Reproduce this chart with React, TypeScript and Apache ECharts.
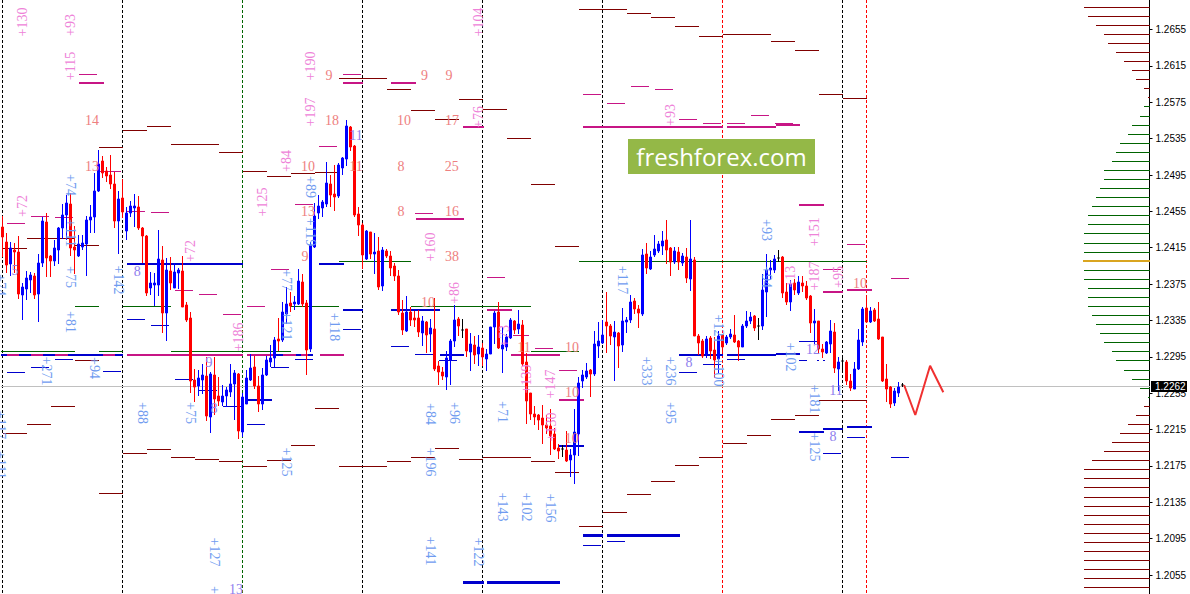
import React, { useEffect, useRef } from "react";
import * as echarts from "echarts";

// Quotes are in points (1 point = 0.00001). Bars are numbered from the left of the chart.
const POINT = 0.00001;
const PRICE_MAX = 1.26875;
const PRICE_MIN = 1.20341;
const SLOT_COUNT = 287;
const PROFILE_BASE = 286.75;
const LAST_PRICE = 122620;

const priceTicks = [1.2655, 1.2615, 1.2575, 1.2535, 1.2495, 1.2455, 1.2415, 1.2375, 1.2335, 1.2295, 1.2255, 1.2215, 1.2175, 1.2135, 1.2095, 1.2055];

// [open, close, low, high]
const candles = [
[124378,124268,124048,124499],[124213,123960,123872,124312],[123971,124147,123839,124213],[124125,124103,123872,124202],
[124103,123641,123586,124279],[123630,123718,123355,123762],[123696,123817,123575,123894],[123795,123850,123652,123883],
[123839,123630,123586,123872],[123641,123982,123333,124081],[123982,124444,123938,124488],[124433,124037,123828,124532],
[124059,124004,123828,124070],[124004,124147,123949,124235],[124125,124367,123971,124378],[124367,124510,124246,124631],
[124510,124642,124235,124730],[124631,124147,124059,124752],[124158,124125,123861,124389],[124059,124191,124048,124290],
[124158,124202,124125,124290],[124191,124455,123839,124499],[124455,124488,124312,124620],[124488,124774,124312,124972],
[124774,125071,124763,125225],[125104,124972,124917,125159],[124994,124939,124873,125038],[124950,124851,124796,125170],
[124851,124444,124367,124983],[124444,124686,124081,124774],[124697,124543,124477,124906],[124334,124532,124235,124598],
[124532,124609,124488,124664],[124587,124609,124378,124741],[124598,124367,124345,124719],[124367,124279,123982,124378],
[124279,123652,123619,124290],[123707,123762,123630,123883],[123740,123762,123509,123872],[123740,124026,123619,124345],
[124015,123432,123212,124169],[123432,123905,123124,124037],[123894,123762,123685,124048],[123707,123883,123707,123982],
[123872,123905,123696,123927],[123894,123498,123498,124059],[123520,123355,123333,123553],[123377,122684,122552,123443],
[122695,122618,122453,122816],[122629,122717,122519,122805],[122695,122750,122541,122871],[122739,122299,122244,122948],
[122288,122761,122112,122783],[122750,122486,122310,122948],[122519,122464,122409,122728],[122453,122519,122409,122640],
[122519,122585,122398,122618],[122563,122651,122508,122871],[122651,122772,122255,122805],[122761,122134,122046,122772],
[122123,122508,122068,122552],[122431,122717,122431,122805],[122695,122827,122684,122981],[122838,122629,122596,122959],
[122629,122431,122343,122739],[122431,122750,122365,122827],[122750,122915,122739,122959],[122893,122937,122838,123080],
[122937,123135,122838,123168],[123146,123124,123014,123377],[123135,123443,123113,123553],[123421,123531,123311,123718],
[123542,123509,123443,123663],[123531,123553,123465,123619],[123531,123784,123520,123916],[123773,123531,123498,123861],
[123542,123025,122750,123575],[123036,124180,123003,124213],[124158,124499,124147,124642],[124532,124609,124466,124730],
[124587,124653,124488,124675],[124631,124862,124598,125093],[124851,124730,124598,124950],[124741,124708,124554,125060],
[124719,125060,124697,125082],[125027,125137,124950,125148],[125126,125489,125049,125555],[125478,125258,125214,125489],
[125269,124510,124488,125280],[124521,124400,124279,124598],[124400,124070,123916,124422],[124026,124334,124015,124345],
[124323,124081,124026,124323],[124081,124103,123861,124312],[124114,123718,123685,124268],[123729,124125,123674,124158],
[124114,124059,124037,124136],[124059,123927,123839,124114],[123949,123839,123784,123982],[123839,123443,123410,123905],
[123432,123245,123190,123575],[123234,123443,123223,123619],[123443,123355,123289,123498],[123377,123355,123278,123454],
[123377,123223,123168,123465],[123212,123344,123069,123399],[123333,123190,122992,123344],[123201,123267,123003,123366],
[123256,122816,122794,123597],[122849,122783,122640,122904],[122783,122739,122695,122838],[122728,122937,122585,123014],
[122915,123124,122640,123146],[123124,123355,123058,123520],[123366,123289,123179,123388],[123245,123245,123157,123366],
[123256,123014,122948,123256],[123003,123091,122794,123212],[123080,122970,122871,123179],[122981,123058,122849,123190],
[123047,122948,122849,123102],[122926,122981,122794,123036],[122981,123278,122981,123278],[123278,123432,123091,123454],
[123443,123047,123036,123553],[123036,123080,122772,123278],[123058,123168,123014,123201],[123157,123355,123146,123377],
[123344,123245,123201,123355],[123256,123311,123201,123465],[123300,122871,122849,123355],[122893,122464,122211,122992],
[122552,122321,122255,122552],[122321,122288,122200,122409],[122310,122255,122145,122321],[122277,122200,121991,122420],
[122200,122167,122101,122310],[122189,122079,121870,122376],[122101,121936,121925,122167],[121947,121914,121826,121991],
[121936,121936,121848,121980],[121925,121804,121793,122134],[121815,121870,121628,121936],[121870,122123,121551,122376],
[122101,122662,121859,122728],[122684,122750,122607,122805],[122728,122794,122706,122882],[122805,122761,122508,122816],
[122761,123091,122739,123234],[123069,123124,122937,123333],[123102,123190,123091,123355],[123333,123289,122992,123663],
[123289,123179,123080,123311],[123168,123223,122684,123344],[123212,123069,122827,123223],[123080,123344,123003,123487],
[123333,123355,123212,123388],[123355,123553,123322,123630],[123564,123476,123421,123597],[123476,123432,123267,123520],
[123421,124070,123399,124136],[124081,123927,123861,124202],[123916,124048,123905,124114],[124070,124136,124048,124290],
[124114,124191,124092,124224],[124169,124224,124070,124334],[124235,124125,123971,124455],[124147,123993,123839,124158],
[123993,124114,123971,124158],[124103,123993,123905,124158],[123982,124059,123949,124092],[124048,123817,123762,124147],
[123806,124026,123674,124455],[124015,123179,123179,124048],[123179,123102,122970,123201],[123124,122959,122937,123146],
[122981,123146,122937,123179],[123157,123014,122926,123179],[123025,122915,122717,123168],[122926,123179,122761,123234],
[123190,123058,122981,123201],[123102,123168,123080,123190],[123168,123201,123146,123256],[123190,123113,123102,123410],
[123124,123058,122904,123135],[123058,123289,123058,123311],[123289,123344,123267,123454],[123344,123388,123311,123443],
[123399,123267,123234,123410],[123289,123289,123135,123377],[123289,123685,123245,123861],[123663,123905,123388,124081],
[123905,123927,123795,124015],[123905,124026,123872,124070],[124037,124037,123993,124125],[124048,123652,123597,124059],
[123663,123553,123520,123762],[123553,123751,123454,123795],[123762,123685,123630,123806],[123652,123773,123630,123839],
[123762,123729,123663,123839],[123729,123597,123575,123784],[123619,123322,123212,123630],[123322,123344,123091,123476],
[123344,123036,122992,123344],[123036,123003,122937,123091],[122992,123113,122981,123124],[123091,123234,122992,123355],
[123223,122827,122772,123322],[122816,122893,122574,122948],[122904,122904,122783,122948],[122893,122684,122640,122915],
[122684,122607,122574,122761],[122596,122816,122596,122893],[122816,123135,122805,123256],[123113,123476,123069,123498],
[123487,123333,123322,123608],[123333,123454,123322,123498],[123465,123344,123333,123487],[123366,123146,123135,123553],
[123168,122684,122673,123168],[122706,122596,122453,122871],[122618,122431,122387,122629],[122442,122574,122409,122607],
[122552,122618,122508,122673],[122640,122640,122618,122662],
];

// Levels: [from bar, to bar, points]
const darkRedLevels = [
[24,30,125247],[30,36,125445],[36,42,125489],[42,54,125280],[54,60,125192],[60,66,124994],[66,72,124928],[72,78,124961],
[78,84,124983],[84,96,126017],[96,102,125896],[102,108,125654],[108,114,125555],[114,120,125775],[120,126,125676],
[126,132,125357],[132,138,124851],[138,144,124158],[144,156,126765],[156,162,126721],[162,168,126688],[168,174,126578],
[174,180,126479],[180,192,126490],[192,198,126424],[198,204,126314],[204,210,125841],[210,216,125797],
[0,6,124147],[6,18,124246],[18,24,124169],
[0,6,122101],[6,12,122200],[12,18,122409],[18,24,122904],[24,30,121452],[30,36,121881],[36,42,121925],[42,48,121848],
[48,54,121826],[54,60,121793],[60,66,121738],[66,72,121815],[72,78,121980],[78,84,122376],[84,96,121738],[96,102,121793],
[102,108,121837],[108,114,121947],[114,120,121826],[120,126,121848],[126,132,121837],[132,138,121793],[138,144,121683],
[144,150,121078],[150,156,121243],[156,162,121430],[162,168,121584],[168,174,121760],[174,180,121848],[180,186,122002],
[186,192,122090],[192,198,122266],[198,204,122310],[204,210,122464],[210,216,122475],
];
const greenLevels = [
[84,102,124004],[144,216,124004],[18,24,123509],[30,42,123509],[72,84,123509],[102,132,123509],
[-0.5,18,123014],[24,30,123014],[42,72,123014],[132,144,123014],
];
const magentaLevels = [
[19,23.5,126061],[1,5.5,124422],[7,11.5,124499],[13,17.5,124477],[31,35.5,124554],[37,41.5,124532],[24,29.5,124994],
[43,47.5,123685],[49,53.5,123630],[55,59.5,123410],[61,65.5,123498],[67,71.5,123916],[73,77.5,124631],[79,83.5,125269],
[85,89.5,126061],[103,107.5,124521],[121,125.5,123828],[145,149.5,125841],[151,155.5,125731],[157,161.5,125929],
[163,167.5,125896],[169,173.5,125566],[175,179.5,125522],[181,185.5,125522],[187,191.5,125599],[193,197.5,125522],
[205,209.5,123905],[211,215.5,124191],[222,226.5,123806],[127.5,131.5,123190],[133,137.5,123036],[139,143.5,122805],
];
const magentaStrong = [
[19,25.25,125962],[31,60,122970],[85,90,125962],[97,103.25,125962],[103.25,115.25,124466],[115,120.25,125478],
[145,180,125478],[181,193.25,125478],[193.25,199.25,125500],[199,205.25,124620],[205,210,123663],[211,217.25,123680],
[121,127.25,123465],[127,139.25,122970],[139,145.25,122475],
[1,4,122970],[7,10,122970],[13,16.25,122970],[25,28,122970],[61,67.5,122970],[70,73.25,122970],[74.5,76.25,122970],[79.25,85.25,122970],
];
const blueLevels = [
[1,5.5,122772],[7,11.5,122838],[13,17.5,122926],[25,29.5,122794],[31,35.5,123355],[37,41.5,123300],[43,47.5,122706],
[49,53.5,122585],[55,59.5,122409],[61,65.5,122211],[67,71.5,122827],[73,77.5,122926],[85,89.5,123256],[97,101.5,123069],
[103,107.5,122981],[109,113.5,122904],[145,149.5,120880],[151,155.5,120924],[169,173.5,122772],[175,179.5,122860],
[181,185.5,122915],[199,203.5,123124],[211,215.5,122057],[205,209.5,121892],[222,226.5,121848],
[199,201,122904],[203.5,204,122904],[205,205.5,122904],
];
const blueStrong = [
[-0.5,30,122970],[31,60,123971],[61,67.25,122475],[67.5,77.5,122970],[79,85.25,123971],[85,90,123465],[97,109.25,123465],
[109.25,115.25,122970],[139,145.25,121969],
[169,180,122970],[181,193.25,122970],[193.25,199.25,122981],[199,205.25,122123],[205,210,122156],[211,217.25,122178],
];
const blueHeavy = [
[115,120.25,120473],[121,139.25,120473],[145,150,120979],[151,169.25,120979],
];

const blackSessions = [0, 30, 90, 120, 150, 210];
const greenSessions = [60];
const redSessions = [180, 216];

// Volume profile: [points, length in bars]
const profileUpper = [[126795,16.5],[126696,15.5],[126597,13.5],[126498,11.5],[126399,10.5],[126300,8.5],[126201,6.5],[126102,4.5],[126003,3.5],[125904,1.5],[125805,0.5]];
const profileMiddle = [[125706,1.5],[125596,2.5],[125497,4.5],[125398,5.5],[125299,7.5],[125200,8.5],[125101,9.5],[125002,11.5],[124903,11.5],[124804,12.5],[124705,13.5],[124606,14.5],[124507,15.5],[124408,15.5],[124309,16.5],[124199,16.5],[124100,16.5],[123902,16.5],[123803,16.5],[123704,15.5],[123605,15.5],[123506,15.5],[123407,14.5],[123308,13.5],[123209,12.5],[123110,11.5],[123011,9.5],[122912,8.5],[122802,6.5],[122703,4.5],[122604,2.5],[122505,0.5]];
const profileLower = [[122406,1.5],[122307,3.5],[122208,5.5],[122109,7.5],[122010,9.5],[121911,11.5],[121812,14.5],[121713,16.5],[121614,16.5],[121515,16.5],[121405,16.5],[121306,16.5],[121207,16.5],[121108,16.5],[121009,16.5],[120910,16.5],[120811,16.5],[120712,16.5],[120613,16.5],[120514,16.5],[120415,16.5]];
const profilePeak = [[124004,16.75]];

// Forecast zigzag: [bar, points]
const forecast = [[225.4,122640],[228.2,122310],[231.9,122852],[235.2,122560]];

// Labels: [bar, points, text]
const pinkTags = [
[5.1,126633,"+130"],[17.05,126600,"+93"],[17.05,126149,"+115"],[5.1,124609,"+72"],[65.05,124653,"+125"],[70.9,125104,"+84"],
[47.05,124114,"+72"],[77.05,126149,"+190"],[77.05,125643,"+197"],[118.95,126633,"+104"],[118.95,125588,"+76"],[107.05,124158,"+160"],
[112.95,123652,"+86"],[58.9,123168,"+186"],[125.4,123179,"+73"],[131.05,122706,"+139"],[136.9,122651,"+147"],[137.3,122178,"+130"],
[167.05,125610,"+93"],[203.1,124326,"+151"],[203.1,123839,"+187"],[208.95,123828,"+95"],[197.05,123831,"+13"],
];
const blueTags = [
[17.05,124840,"+74"],[17.05,124312,"+111"],[17.05,123828,"+75"],[29.1,123795,"+142"],[16.9,123333,"+81"],[10.9,122794,"+271"],
[22.95,122827,"+94"],[34.95,122332,"+88"],[46.9,122332,"+75"],[52.9,120803,"+127"],[53.1,120385,"+"],[70.9,121793,"+125"],
[71.05,123795,"+77"],[71.05,123289,"+121"],[77.05,124818,"+89"],[77.05,124323,"+119"],[82.95,123278,"+118"],[106.9,122321,"+84"],
[112.9,122332,"+96"],[125.05,122343,"+71"],[106.9,121793,"+196"],[125.05,121298,"+143"],[130.9,121298,"+102"],[136.9,121287,"+156"],
[106.9,120814,"+141"],[118.95,120803,"+122"],[154.95,123795,"+117"],[160.9,122794,"+333"],[166.9,122794,"+236"],[166.9,122332,"+95"],
[190.9,124345,"+93"],[190.9,123828,"+94"],[178.9,123256,"+121"],[178.9,122783,"+100"],[196.9,122948,"+102"],[202.9,122486,"+181"],
[202.9,121958,"+125"],[-0.4,123740,"+74"],[-0.4,122200,"+117"],[-0.4,121760,"+111"],
];
const redCounts = [
[22.4,125548,"14"],[22.4,125049,"13"],[81.6,126050,"9"],[82.4,125548,"18"],[76.4,125041,"10"],[76.4,124546,"13"],[75.6,124051,"9"],
[88.4,125041,"11"],[105.5,126050,"9"],[111.6,126050,"9"],[100.4,125548,"10"],[112.4,125548,"17"],[99.6,125041,"8"],[112.3,125041,"25"],
[99.6,124546,"8"],[112.4,124546,"16"],[112.4,124051,"38"],[106.4,123550,"10"],[130.4,123055,"11"],[142.4,123055,"10"],[142.4,122555,"10"],
[142.3,122057,"10"],[214.4,123759,"10"],
];
const blueCounts = [
[88.4,125382,"11"],[33.7,123886,"8"],[51.6,122893,"9"],[52.9,122387,"8"],[3.1,123905,"5"],[58.4,120388,"13"],[171.6,122890,"8"],
[202.6,123036,"12"],[208.4,122577,"11"],[207.6,122071,"8"],
];

const BLUE = "#0000ff";
const RED = "#ff0000";
const NAVY = "#0000cd";
const MAROON = "#800000";
const MAGENTA = "#c71585";
const GREEN = "#006400";
const GOLD = "#daa520";
const SERIF = "'Liberation Serif', serif";

function levelSeries(name: string, rows: number[][], color: string, width: number, z: number) {
  return {
    name,
    type: "custom",
    xAxisIndex: 1,
    yAxisIndex: 0,
    silent: true,
    z,
    data: rows.map(([a, b, p]) => [a, b, p * POINT]),
    encode: { x: [0, 1], y: 2 },
    renderItem: (_: any, api: any) => {
      const s = api.coord([api.value(0), api.value(2)]);
      const e = api.coord([api.value(1), api.value(2)]);
      const y = width % 2 ? Math.floor(s[1]) + 0.5 : Math.round(s[1]);
      return {
        type: "line",
        shape: { x1: Math.round(s[0]), y1: y, x2: Math.round(e[0]), y2: y },
        style: { stroke: color, lineWidth: width, fill: "none" },
      };
    },
  };
}

function sessionSeries(name: string, bars: number[], color: string) {
  return {
    name,
    type: "custom",
    xAxisIndex: 1,
    yAxisIndex: 0,
    silent: true,
    z: 1,
    data: bars.map((b) => [b]),
    encode: { x: 0 },
    renderItem: (_: any, api: any) => {
      const a = api.coord([api.value(0), PRICE_MAX]);
      const b = api.coord([api.value(0), PRICE_MIN]);
      const x = Math.floor(a[0]) + 0.5;
      return {
        type: "line",
        shape: { x1: x, y1: a[1], x2: x, y2: b[1] },
        style: { stroke: color, lineWidth: 1, lineDash: [3, 2], fill: "none" },
      };
    },
  };
}

function labelSeries(name: string, rows: any[], color: string, rotation: number, size: number) {
  return {
    name,
    type: "custom",
    xAxisIndex: 1,
    yAxisIndex: 0,
    silent: true,
    z: 6,
    data: rows.map(([b, p, t]) => [b, p * POINT, t]),
    encode: { x: 0, y: 1 },
    renderItem: (params: any, api: any) => {
      const c = api.coord([api.value(0), api.value(1)]);
      return {
        type: "text",
        x: c[0],
        y: c[1],
        rotation,
        style: {
          text: rows[params.dataIndex][2],
          fill: color,
          font: `${size}px ${SERIF}`,
          align: "center",
          verticalAlign: "middle",
        },
      };
    },
  };
}

export default function App() {
  const ref = useRef<HTMLDivElement>(null);
  useEffect(() => {
    const chart = echarts.init(ref.current!, undefined, { renderer: "svg" });
    const toProfile = (rows: number[][]) => rows.map(([p, len]) => [PROFILE_BASE - len, PROFILE_BASE, p]);
    chart.setOption({
      animation: false,
      backgroundColor: "#ffffff",
      grid: { left: 0.5, top: 0, width: SLOT_COUNT * 4, height: 594 },
      xAxis: [
        { type: "category", show: false, data: Array.from({ length: SLOT_COUNT }, (_, i) => String(i)) },
        { type: "value", show: false, min: -0.5, max: SLOT_COUNT - 0.5 },
      ],
      yAxis: {
        type: "value",
        position: "right",
        offset: 1,
        min: PRICE_MIN,
        max: PRICE_MAX,
        splitLine: { show: false },
        axisLine: { show: true, onZero: false, lineStyle: { color: "#000", width: 1 } },
        axisTick: { show: true, length: 3, customValues: priceTicks, lineStyle: { color: "#000" } },
        axisLabel: {
          customValues: priceTicks,
          margin: 6,
          color: "#000",
          fontSize: 10,
          fontFamily: "'Liberation Sans', sans-serif",
          formatter: (v: number) => v.toFixed(4),
        },
      },
      series: [
        sessionSeries("sessions black", blackSessions, "#000000"),
        sessionSeries("sessions green", greenSessions, GREEN),
        sessionSeries("sessions red", redSessions, RED),
        levelSeries("last price", [[-0.5, PROFILE_BASE, LAST_PRICE]], "#c0c0c0", 1, 1),
        levelSeries("maroon levels", darkRedLevels, MAROON, 1, 2),
        levelSeries("green levels", greenLevels, GREEN, 1, 2),
        levelSeries("blue levels", blueLevels, NAVY, 1, 2),
        levelSeries("magenta levels", magentaLevels, MAGENTA, 1, 2),
        levelSeries("blue strong", blueStrong, NAVY, 2, 3),
        levelSeries("blue heavy", blueHeavy, NAVY, 3, 3),
        levelSeries("magenta strong", magentaStrong, MAGENTA, 2, 3),
        levelSeries("profile upper", toProfile(profileUpper), MAROON, 1, 2),
        levelSeries("profile middle", toProfile(profileMiddle), GREEN, 1, 2),
        levelSeries("profile lower", toProfile(profileLower), MAROON, 1, 2),
        levelSeries("profile peak", toProfile(profilePeak), GOLD, 2, 2),
        {
          name: "price",
          type: "candlestick",
          xAxisIndex: 0,
          yAxisIndex: 0,
          z: 4,
          barWidth: 2,
          silent: true,
          itemStyle: { color: BLUE, color0: RED, borderColor: BLUE, borderColor0: RED, borderWidth: 1 },
          data: candles.map((row) => {
            const value = row.map((v) => v * POINT);
            return row[0] === row[1]
              ? { value, itemStyle: { color: "#000", color0: "#000", borderColor: "#000", borderColor0: "#000", borderColorDoji: "#000" } }
              : value;
          }),
        },
        {
          name: "forecast",
          type: "line",
          xAxisIndex: 1,
          yAxisIndex: 0,
          z: 5,
          silent: true,
          showSymbol: false,
          lineStyle: { color: "#f03030", width: 2 },
          data: forecast.map(([b, p]) => [b, p * POINT]),
        },
        labelSeries("pink tags", pinkTags, "#ee82d8", Math.PI / 2, 14),
        labelSeries("blue tags", blueTags, "#6f9bf0", -Math.PI / 2, 14),
        labelSeries("red counts", redCounts, "#ee8080", 0, 14),
        labelSeries("blue counts", blueCounts, "#8f80ee", 0, 14),
      ],
      graphic: [
        { type: "rect", z: 20, shape: { x: 628, y: 139, width: 187, height: 35 }, style: { fill: "#94b847" } },
        {
          type: "text",
          z: 21,
          x: 721.5,
          y: 156.5,
          style: { text: "freshforex.com", fill: "#ffffff", font: "24px 'Open Sans', sans-serif", align: "center", verticalAlign: "middle" },
        },
        { type: "rect", z: 20, shape: { x: 1151, y: 381, width: 36, height: 11 }, style: { fill: "#000000" } },
        {
          type: "text",
          z: 21,
          x: 1155,
          y: 386.5,
          style: { text: "1.2262", fill: "#ffffff", font: "10px 'Liberation Sans', sans-serif", align: "left", verticalAlign: "middle" },
        },
      ],
    });
    return () => chart.dispose();
  }, []);
  return <div ref={ref} style={{ position: "absolute", left: 0, top: 0, width: 1190, height: 594, background: "#fff" }} />;
}
